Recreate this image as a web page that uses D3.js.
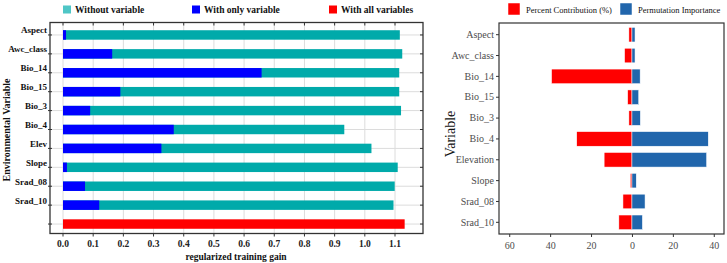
<!DOCTYPE html>
<html>
<head>
<meta charset="utf-8">
<script src="https://cdn.jsdelivr.net/npm/d3@7"></script>
<style>
  body { margin: 0; background: #fff; }
  svg { display: block; }
</style>
</head>
<body>
<svg id="chart" width="727" height="263"></svg>
<script>
// jackknife of regularized training gain (left panel)
const gainVars = ["Aspect", "Awc_class", "Bio_14", "Bio_15", "Bio_3", "Bio_4", "Elev", "Slope", "Srad_08", "Srad_10"];
const withoutVar = [1.116, 1.124, 1.114, 1.114, 1.12, 0.932, 1.022, 1.109, 1.099, 1.095];
const onlyVar = [0.01, 0.163, 0.658, 0.19, 0.09, 0.367, 0.326, 0.013, 0.073, 0.12];
const allVars = 1.132;
const gainTicks = [0, 0.1, 0.2, 0.3, 0.4, 0.5, 0.6, 0.7, 0.8, 0.9, 1.0, 1.1];

// contribution / importance (right panel)
const contribVars = ["Aspect", "Awc_class", "Bio_14", "Bio_15", "Bio_3", "Bio_4", "Elevation", "Slope", "Srad_08", "Srad_10"];
const percentContribution = [1.5, 3.6, 39.3, 2.1, 1.5, 27, 13.6, 0.8, 4.4, 6.4];
const permutationImportance = [1.5, 1.5, 4, 3.3, 4.1, 37.3, 36.5, 2.1, 6.4, 5.1];
const contribTicks = [-60, -40, -20, 0, 20, 40];

const COLORS = {
  without: "#00aaaa",
  withoutKey: "#4fc6c6",
  only: "#0000ff",
  all: "#ff0000",
  pc: "#ff0000",
  pi: "#2166ac"
};

const svg = d3.select("#chart");
const serif = "'Liberation Serif', 'Times New Roman', serif";

// ---------- left panel ----------
const L = { left: 50, right: 423, top: 22.5, bottom: 233.5 };
const left = svg.append("g");

const x1 = d3.scaleLinear().domain([0, 1.1]).range([63, 395]);
const y1 = d3.scaleBand()
  .domain(gainVars.concat(["__all"]))
  .range([25.5, 233.5])
  .paddingInner(0.5)
  .paddingOuter(0.25);

// grid lines
left.selectAll(".vgrid").data(gainTicks).enter().append("line")
  .attr("x1", d => x1(d)).attr("x2", d => x1(d))
  .attr("y1", L.top).attr("y2", L.bottom)
  .attr("stroke", "#dcdcdc").attr("stroke-width", 1);
left.selectAll(".hgrid").data(y1.domain()).enter().append("line")
  .attr("x1", L.left).attr("x2", L.right)
  .attr("y1", d => y1(d) + y1.bandwidth() / 2).attr("y2", d => y1(d) + y1.bandwidth() / 2)
  .attr("stroke", "#dcdcdc").attr("stroke-width", 1);

// bars: without variable (behind), only variable (front)
left.selectAll(".without").data(gainVars).enter().append("rect")
  .attr("x", x1(0))
  .attr("y", d => y1(d))
  .attr("width", (d, i) => x1(withoutVar[i]) - x1(0))
  .attr("height", y1.bandwidth())
  .attr("fill", COLORS.without);
left.selectAll(".only").data(gainVars).enter().append("rect")
  .attr("x", x1(0))
  .attr("y", d => y1(d))
  .attr("width", (d, i) => x1(onlyVar[i]) - x1(0))
  .attr("height", y1.bandwidth())
  .attr("fill", COLORS.only);
left.append("rect")
  .attr("x", x1(0))
  .attr("y", y1("__all"))
  .attr("width", x1(allVars) - x1(0))
  .attr("height", y1.bandwidth())
  .attr("fill", COLORS.all);

// frame
left.append("rect")
  .attr("x", L.left).attr("y", L.top)
  .attr("width", L.right - L.left).attr("height", L.bottom - L.top)
  .attr("fill", "none").attr("stroke", "#333").attr("stroke-width", 1.3);

// x ticks (bottom outward, top inward)
gainTicks.forEach(t => {
  left.append("line").attr("x1", x1(t)).attr("x2", x1(t))
    .attr("y1", L.bottom).attr("y2", L.bottom + 3).attr("stroke", "#333");
  left.append("line").attr("x1", x1(t)).attr("x2", x1(t))
    .attr("y1", L.top).attr("y2", L.top + 3).attr("stroke", "#333");
});
left.selectAll(".xlab").data(gainTicks).enter().append("text")
  .attr("x", d => x1(d)).attr("y", 247)
  .attr("text-anchor", "middle")
  .attr("font-family", serif).attr("font-size", 9.5).attr("font-weight", "bold")
  .attr("fill", "#222")
  .text(d => d3.format(".1f")(d));

// y ticks
y1.domain().forEach(d => {
  const cy = y1(d) + y1.bandwidth() / 2;
  left.append("line").attr("x1", L.left - 2).attr("x2", L.left + 2)
    .attr("y1", cy).attr("y2", cy).attr("stroke", "#333");
  left.append("line").attr("x1", L.right - 3).attr("x2", L.right)
    .attr("y1", cy).attr("y2", cy).attr("stroke", "#333");
});
left.selectAll(".ylab").data(gainVars).enter().append("text")
  .attr("x", L.left - 3)
  .attr("y", d => y1(d) + y1.bandwidth() / 2 - 1.5)
  .attr("text-anchor", "end")
  .attr("font-family", serif).attr("font-size", 9).attr("font-weight", "bold")
  .attr("fill", "#111")
  .text(d => d);

left.append("text")
  .attr("x", 236).attr("y", 260)
  .attr("text-anchor", "middle")
  .attr("font-family", serif).attr("font-size", 9.5).attr("font-weight", "bold")
  .attr("fill", "#111")
  .text("regularized training gain");
left.append("text")
  .attr("transform", "translate(10,130) rotate(-90)")
  .attr("text-anchor", "middle")
  .attr("font-family", serif).attr("font-size", 10).attr("font-weight", "bold")
  .attr("fill", "#111")
  .text("Environmental Variable");

// legend
const leftKeys = [
  { label: "Without variable", color: COLORS.withoutKey, x: 63 },
  { label: "With only variable", color: COLORS.only, x: 192 },
  { label: "With all variables", color: COLORS.all, x: 329 }
];
leftKeys.forEach(k => {
  left.append("rect").attr("x", k.x).attr("y", 5.5).attr("width", 8).attr("height", 8).attr("fill", k.color);
  left.append("text").attr("x", k.x + 12).attr("y", 13)
    .attr("font-family", serif).attr("font-size", 9.5).attr("font-weight", "bold")
    .attr("fill", "#111").text(k.label);
});

// ---------- right panel ----------
const R = { left: 499, right: 724, top: 23, bottom: 234 };
const right = svg.append("g");

const x2 = d3.scaleLinear().domain([-65, 45]).range([R.left, R.right]);
const y2 = d3.scaleBand()
  .domain(contribVars)
  .range([R.top, R.bottom])
  .paddingInner(0.3)
  .paddingOuter(0.21);

right.selectAll(".pc").data(contribVars).enter().append("rect")
  .attr("x", (d, i) => x2(-percentContribution[i]))
  .attr("y", d => y2(d))
  .attr("width", (d, i) => x2(0) - x2(-percentContribution[i]))
  .attr("height", y2.bandwidth())
  .attr("fill", COLORS.pc)
  .attr("stroke", "#fff").attr("stroke-width", 0.5);
right.selectAll(".pi").data(contribVars).enter().append("rect")
  .attr("x", x2(0))
  .attr("y", d => y2(d))
  .attr("width", (d, i) => x2(permutationImportance[i]) - x2(0))
  .attr("height", y2.bandwidth())
  .attr("fill", COLORS.pi)
  .attr("stroke", "#fff").attr("stroke-width", 0.5);

right.append("rect")
  .attr("x", R.left).attr("y", R.top)
  .attr("width", R.right - R.left).attr("height", R.bottom - R.top)
  .attr("fill", "none").attr("stroke", "#333").attr("stroke-width", 1.2);

const xAxis2 = right.append("g")
  .attr("transform", `translate(0,${R.bottom})`)
  .call(d3.axisBottom(x2).tickValues(contribTicks).tickSize(3).tickFormat(d => Math.abs(d)));
xAxis2.select(".domain").remove();
xAxis2.selectAll("line").attr("stroke", "#333");
xAxis2.selectAll("text")
  .attr("font-family", serif).attr("font-size", 10).attr("fill", "#4d4d4d").attr("dy", "0.85em");

const yAxis2 = right.append("g")
  .attr("transform", `translate(${R.left},0)`)
  .call(d3.axisLeft(y2).tickSize(3).tickPadding(2));
yAxis2.select(".domain").remove();
yAxis2.selectAll("line").attr("stroke", "#333");
yAxis2.selectAll("text")
  .attr("font-family", serif).attr("font-size", 10).attr("fill", "#4d4d4d");

right.append("text")
  .attr("transform", "translate(455,134) rotate(-90)")
  .attr("text-anchor", "middle")
  .attr("font-family", serif).attr("font-size", 14)
  .attr("fill", "#111")
  .text("Variable");

const rightKeys = [
  { label: "Percent Contribution (%)", color: COLORS.pc, x: 508 },
  { label: "Permutation Importance", color: COLORS.pi, x: 620 }
];
rightKeys.forEach(k => {
  right.append("rect").attr("x", k.x).attr("y", 3).attr("width", 12).attr("height", 12)
    .attr("fill", k.color).attr("stroke", "#fff").attr("stroke-width", 0.5);
  right.append("text").attr("x", k.x + 18).attr("y", 12.5)
    .attr("font-family", serif).attr("font-size", 8.5)
    .attr("fill", "#111").text(k.label);
});
</script>
</body>
</html>
